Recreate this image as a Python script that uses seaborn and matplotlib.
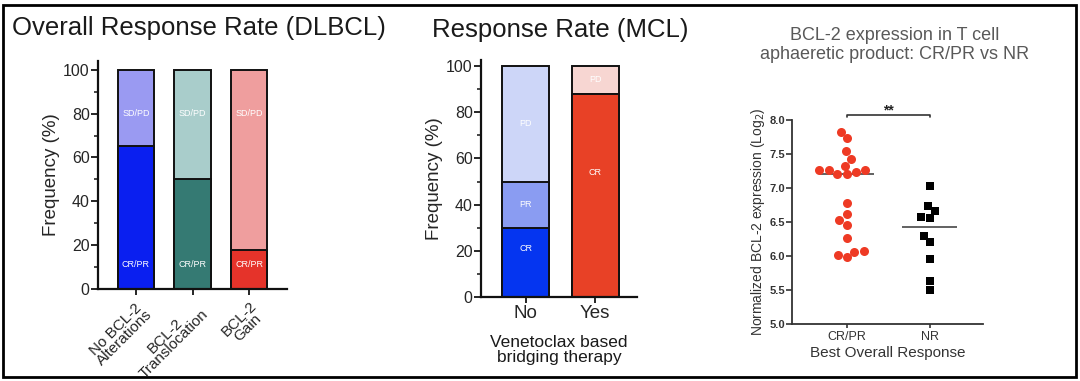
import numpy as np
import pandas as pd
import matplotlib.pyplot as plt
from matplotlib.patches import Rectangle
from matplotlib.ticker import MultipleLocator
import seaborn as sns

sns.set_style("ticks")
plt.rcParams['font.family'] = ['Liberation Sans', 'DejaVu Sans']

# Panel 1 - DLBCL
dlbcl_groups = ["No BCL-2\nAlterations", "BCL-2\nTranslocation", "BCL-2\nGain"]
dlbcl_crpr = [65, 50, 18]
dlbcl_sdpd = [35, 50, 82]
dlbcl_dark = ['#0a1ff0', '#357a73', '#e5332a']
dlbcl_light = ['#9a9af2', '#a9cdcb', '#ef9e9e']

# Panel 2 - MCL
mcl_groups = ["No", "Yes"]
mcl_cr = [30, 88]
mcl_pr = [20, 0]
mcl_pd = [50, 12]
mcl_cr_col = ['#0535f0', '#e84126']
mcl_pr_col = ['#8a9cf2', '#e84126']
mcl_pd_col = ['#cdd6f8', '#f7d6d2']

# Panel 3 - BCL-2 expression
crpr_vals = [7.83, 7.73, 7.54, 7.43, 7.26, 7.27, 7.21, 7.20, 7.33, 7.23, 7.27,
             6.78, 6.62, 6.53, 6.46, 6.26, 6.08, 5.98, 6.02, 6.06]
nr_vals = [7.03, 6.73, 6.66, 6.57, 6.56, 6.30, 6.21, 5.96, 5.63, 5.50]
resp_order = ["CR/PR", "NR"]

W, H = 1080, 381
fig = plt.figure(figsize=(W / 100, H / 100), dpi=100)


def box(l, t, r, b):
    return [l / W, 1 - b / H, (r - l) / W, (b - t) / H]


def style_bar_axes(ax):
    for s in ['top', 'right']:
        ax.spines[s].set_visible(False)
    for s in ['left', 'bottom']:
        ax.spines[s].set_linewidth(1.6)
        ax.spines[s].set_color('#111111')
    ax.yaxis.set_major_locator(MultipleLocator(20))
    ax.yaxis.set_minor_locator(MultipleLocator(10))
    ax.tick_params(axis='y', which='major', length=5, width=1.4, labelsize=11.5, pad=1)
    ax.tick_params(axis='y', which='minor', length=3, width=1.2)
    ax.tick_params(axis='x', length=4, width=1.4, pad=2)
    ax.set_xlabel("")


# ---- DLBCL ----
ax1 = fig.add_axes(box(98, 61, 287, 289))
tot = [c + s for c, s in zip(dlbcl_crpr, dlbcl_sdpd)]
sns.barplot(x=dlbcl_groups, y=tot, hue=dlbcl_groups, palette=dlbcl_light, legend=False,
            width=0.65, saturation=1, edgecolor='#111111', linewidth=1.4, ax=ax1)
sns.barplot(x=dlbcl_groups, y=dlbcl_crpr, hue=dlbcl_groups, palette=dlbcl_dark, legend=False,
            width=0.65, saturation=1, edgecolor='#111111', linewidth=1.4, ax=ax1)
for i in range(len(dlbcl_groups)):
    ax1.text(i, 80, "SD/PD", ha='center', va='center', fontsize=6.5, color='white')
    ax1.text(i, 11, "CR/PR", ha='center', va='center', fontsize=6.5, color='white')
ax1.set_xlim(-0.67, 2.67)
ax1.set_ylim(0, 104)
style_bar_axes(ax1)
ax1.set_ylabel("Frequency (%)", fontsize=13.5, labelpad=2)
ax1.set_xticks(range(3))
ax1.set_xticklabels(dlbcl_groups, rotation=45, ha='right', rotation_mode='anchor',
                    fontsize=11, linespacing=0.85, multialignment='center')
ax1.tick_params(axis='x', pad=3)
fig.text(12 / W, 1 - 28 / H, "Overall Response Rate (DLBCL)", fontsize=18.5,
         color='#1a1a1a', va='center', ha='left')

# ---- MCL ----
ax2 = fig.add_axes(box(481, 60, 637, 297))
layer_pd = [a + b + c for a, b, c in zip(mcl_cr, mcl_pr, mcl_pd)]
layer_pr = [a + b for a, b in zip(mcl_cr, mcl_pr)]
for vals, cols in [(layer_pd, mcl_pd_col), (layer_pr, mcl_pr_col), (mcl_cr, mcl_cr_col)]:
    sns.barplot(x=mcl_groups, y=vals, hue=mcl_groups, palette=cols, legend=False,
                width=0.68, saturation=1, edgecolor='#111111', linewidth=1.4, ax=ax2)
for i in range(len(mcl_groups)):
    if mcl_pd[i]:
        ax2.text(i, layer_pr[i] + mcl_pd[i] / 2, "PD", ha='center', va='center',
                 fontsize=6.5, color='white')
    if mcl_pr[i]:
        ax2.text(i, mcl_cr[i] + mcl_pr[i] / 2, "PR", ha='center', va='center',
                 fontsize=6.5, color='white')
ax2.text(0, 21, "CR", ha='center', va='center', fontsize=6.5, color='white')
ax2.text(1, 54, "CR", ha='center', va='center', fontsize=6.5, color='white')
ax2.set_xlim(-0.64, 1.6)
ax2.set_ylim(0, 102.6)
style_bar_axes(ax2)
ax2.set_ylabel("Frequency (%)", fontsize=13.5, labelpad=2)
ax2.set_xticks(range(2))
ax2.set_xticklabels(mcl_groups, fontsize=13.5)
ax2.text(0.5, -0.16, "Venetoclax based\nbridging therapy", transform=ax2.transAxes,
         ha='center', va='top', fontsize=12.5, linespacing=1.0, color='#1a1a1a')
fig.text(560 / W, 1 - 30 / H, "Response Rate (MCL)", fontsize=18.5,
         color='#1a1a1a', va='center', ha='center')

# ---- BCL-2 expression ----
ax3 = fig.add_axes(box(792, 120, 983, 324))
df = pd.DataFrame({
    "group": ["CR/PR"] * len(crpr_vals) + ["NR"] * len(nr_vals),
    "value": crpr_vals + nr_vals,
})
sns.swarmplot(data=df[df.group == "CR/PR"], x="group", y="value", order=resp_order,
              color='#ee3a24', marker='o', size=6.5, ax=ax3)
sns.swarmplot(data=df[df.group == "NR"], x="group", y="value", order=resp_order,
              color='black', marker='s', size=6, ax=ax3)
for i, g in enumerate(resp_order):
    med = np.median(df.loc[df.group == g, "value"])
    ax3.hlines(med, i - 0.33, i + 0.33, color='#555555', lw=1.3)
ax3.set_xlim(-0.66, 1.64)
ax3.set_ylim(5.0, 8.0)
ax3.yaxis.set_major_locator(MultipleLocator(0.5))
ax3.yaxis.set_major_formatter(plt.FormatStrFormatter('%.1f'))
for s in ['top', 'right']:
    ax3.spines[s].set_visible(False)
for s in ['left', 'bottom']:
    ax3.spines[s].set_linewidth(1.3)
    ax3.spines[s].set_color('#333333')
ax3.tick_params(axis='y', length=4, width=1.2, labelsize=8, pad=1, colors='#333333')
ax3.tick_params(axis='x', length=3, width=1.2, labelsize=9, pad=2, colors='#333333')
for lbl in ax3.get_yticklabels():
    lbl.set_fontweight('bold')
ax3.set_ylabel("Normalized BCL-2 expression (Log$_2$)", fontsize=10, color='#333333', labelpad=2)
ax3.set_xlabel("Best Overall Response", fontsize=11, color='#333333', labelpad=2)
# significance bracket
ax3.plot([0, 0, 1, 1], [8.05, 8.08, 8.08, 8.05], color='#333333', lw=1.2, clip_on=False)
ax3.text(0.5, 8.14, "**", ha='center', va='center', fontsize=10, color='#222222',
         fontweight='bold')
fig.text(895 / W, 1 - 45 / H, "BCL-2 expression in T cell\naphaeretic product: CR/PR vs NR",
         fontsize=13, color='#595959', ha='center', va='center', linespacing=1.15)

# outer frame
fig.patches.append(Rectangle((3 / W, 1 - 377 / H), 1073 / W, 372 / H, transform=fig.transFigure,
                             fill=False, edgecolor='black', linewidth=2))

fig.savefig("out.png", dpi=100)
